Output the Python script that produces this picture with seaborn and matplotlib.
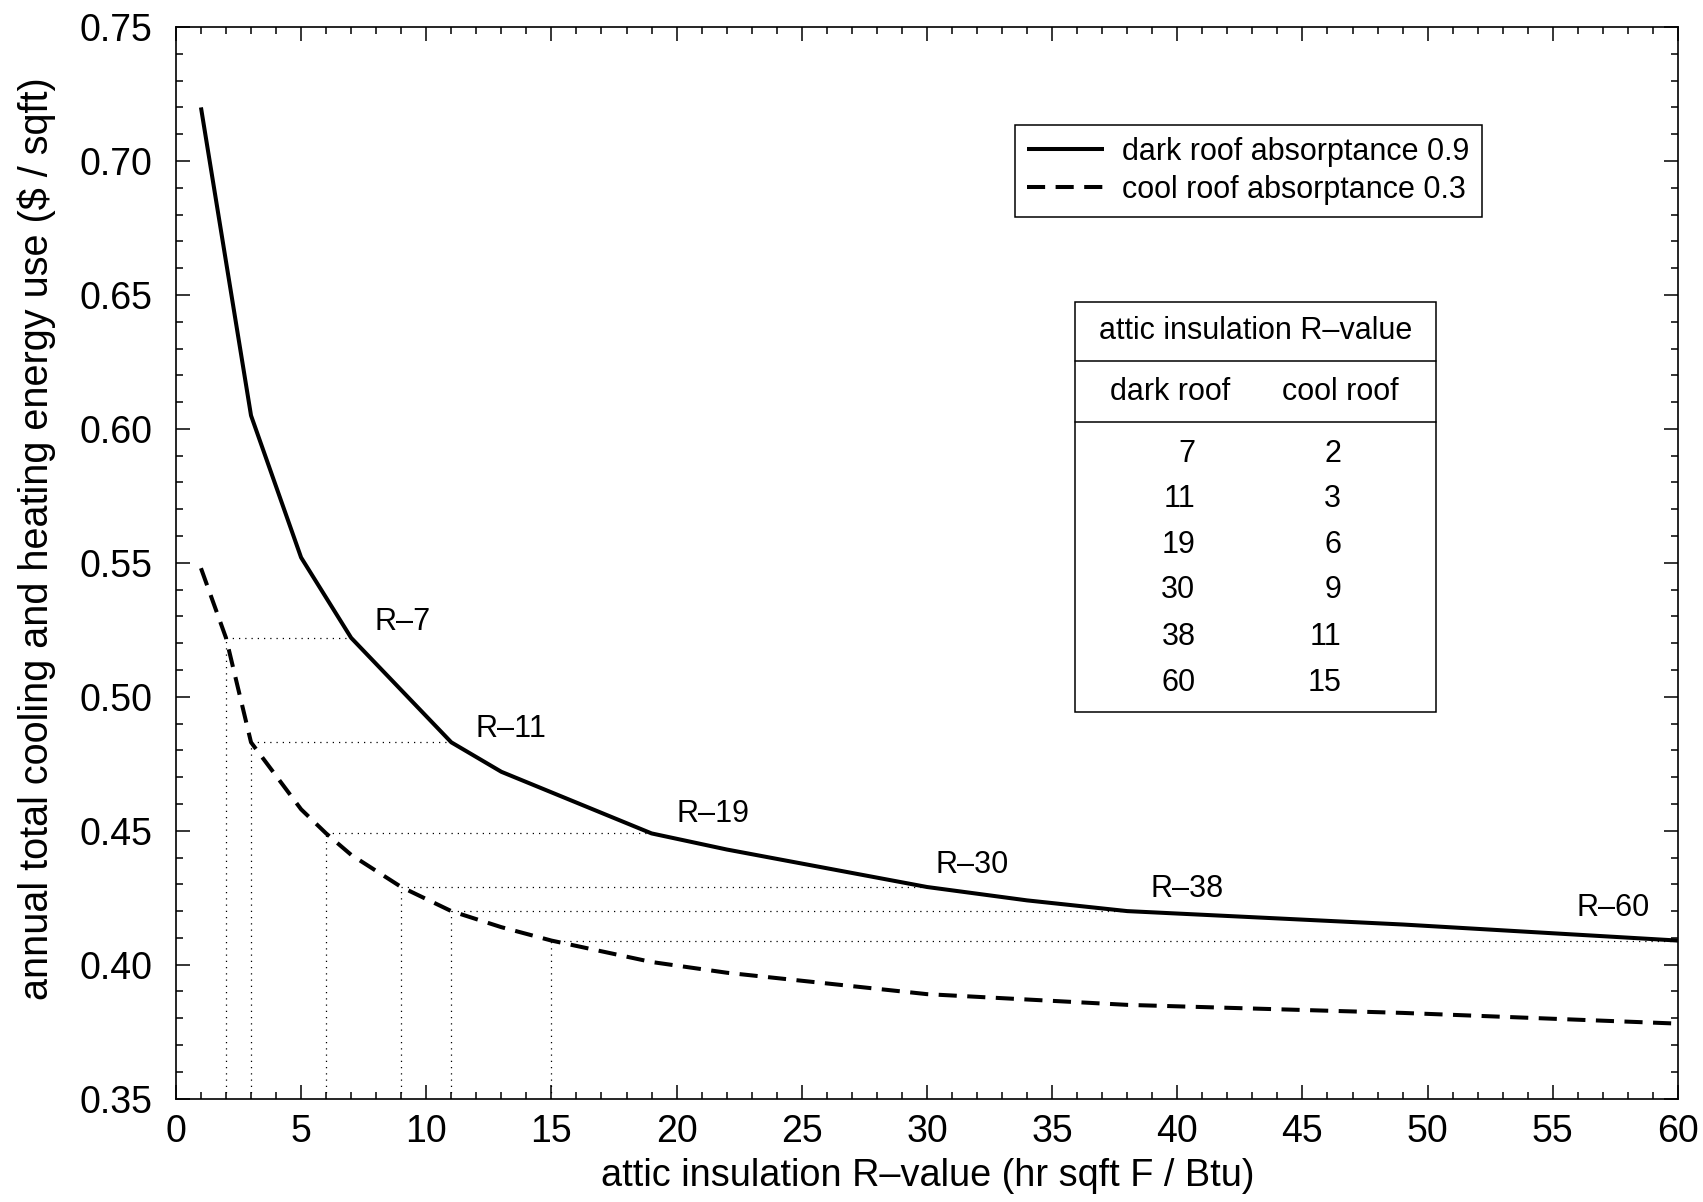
import numpy as np
import pandas as pd
import matplotlib
matplotlib.use("Agg")
import matplotlib.pyplot as plt
import seaborn as sns
from matplotlib.ticker import MultipleLocator, FormatStrFormatter
from matplotlib.patches import Rectangle

# Annual cost vs. attic insulation level for two roof absorptances
r_dark = [1, 3, 5, 7, 11, 13, 19, 22, 26, 30, 34, 38, 49, 60]
cost_dark = [0.720, 0.605, 0.552, 0.522, 0.483, 0.472, 0.449, 0.443, 0.436,
             0.429, 0.424, 0.420, 0.415, 0.409]
r_cool = [1, 2, 3, 5, 6, 7, 9, 11, 13, 15, 19, 22, 26, 30, 34, 38, 49, 60]
cost_cool = [0.548, 0.522, 0.483, 0.458, 0.449, 0.441, 0.429, 0.420, 0.414,
             0.409, 0.401, 0.397, 0.393, 0.389, 0.387, 0.385, 0.382, 0.378]

# Equivalent insulation levels (same annual cost)
table_dark = [7, 11, 19, 30, 38, 60]
table_cool = [2, 3, 6, 9, 11, 15]

series_names = ["dark roof absorptance 0.9", "cool roof absorptance 0.3"]

df = pd.concat([
    pd.DataFrame({"R": r_dark, "cost": cost_dark, "roof": series_names[0]}),
    pd.DataFrame({"R": r_cool, "cost": cost_cool, "roof": series_names[1]}),
])

sns.set_style("ticks")
plt.rcParams["font.family"] = ["Liberation Sans", "DejaVu Sans"]
plt.rcParams["axes.linewidth"] = 1.2
for key in ("text.color", "axes.labelcolor", "xtick.color", "ytick.color",
            "axes.edgecolor"):
    plt.rcParams[key] = "black"

fig = plt.figure(figsize=(17.03, 12.02), dpi=100)
ax = fig.add_axes([0.1033, 0.086, 0.882, 0.8915])

sns.lineplot(data=df, x="R", y="cost", hue="roof", style="roof",
             palette=["black", "black"], dashes=[(1, 0), (4.5, 2.6)],
             linewidth=2.9, ax=ax, legend=True, sort=True)

# dotted guides linking equal-cost insulation levels
dark_lookup = dict(zip(r_dark, cost_dark))
ymin = 0.35
for rd, rc in zip(table_dark, table_cool):
    v = dark_lookup[rd]
    ax.hlines(v, rc, rd, colors="black", linewidth=0.9,
              linestyles=(0, (1, 4)), zorder=1)
    ax.vlines(rc, ymin, v, colors="black", linewidth=0.9,
              linestyles=(0, (1, 4)), zorder=1)

# R-value labels along the dark curve
label_pos = [(9.07, 0.528), (13.4, 0.488), (21.45, 0.4563),
             (31.8, 0.4372), (40.4, 0.4283), (57.4, 0.421)]
for rd, (lx, ly) in zip(table_dark, label_pos):
    ax.text(lx, ly, f"R\u2013{rd}", fontsize=22, ha="center", va="center")

ax.set_xlim(0, 60)
ax.set_ylim(0.35, 0.75)
ax.xaxis.set_major_locator(MultipleLocator(5))
ax.xaxis.set_minor_locator(MultipleLocator(1))
ax.yaxis.set_major_locator(MultipleLocator(0.05))
ax.yaxis.set_minor_locator(MultipleLocator(0.01))
ax.yaxis.set_major_formatter(FormatStrFormatter("%.2f"))
ax.tick_params(which="both", direction="in", top=True, right=True,
               color="black", width=1.1)
ax.tick_params(which="major", length=10, labelsize=27)
ax.tick_params(which="minor", length=5)
ax.tick_params(axis="x", which="major", pad=11)
ax.tick_params(axis="y", which="major", pad=17)
for s in ax.spines.values():
    s.set_visible(True)
    s.set_color("black")

ax.set_xlabel("attic insulation R\u2013value (hr sqft F / Btu)", fontsize=27.3)
ax.xaxis.set_label_coords(0.5007, -0.055)
ax.set_ylabel("annual total cooling and heating energy use ($ / sqft)",
              fontsize=28.5)
ax.yaxis.set_label_coords(-0.080, 0.523)

leg = ax.legend(loc="upper left", bbox_to_anchor=(0.5586, 0.9088),
                borderaxespad=0, fontsize=22, frameon=True, fancybox=False,
                edgecolor="black", framealpha=1, handlelength=2.5,
                handletextpad=0.6, borderpad=0.4, labelspacing=0.25)
leg.get_frame().set_linewidth(1.1)

# equivalence table
x0, x1 = 0.5984, 0.8386
y0, y1 = 0.3607, 0.7437
ax.add_patch(Rectangle((x0, y0), x1 - x0, y1 - y0, transform=ax.transAxes,
                       fill=False, edgecolor="black", linewidth=1.1, zorder=3))
for yl in (0.6879, 0.6312):
    ax.plot([x0, x1], [yl, yl], transform=ax.transAxes, color="black",
            linewidth=1.1, zorder=3)
ax.text((x0 + x1) / 2, 0.7163, "attic insulation R\u2013value",
        transform=ax.transAxes, fontsize=22, ha="center", va="center")
ax.text(0.6621, 0.6596, "dark roof", transform=ax.transAxes, fontsize=22,
        ha="center", va="center")
ax.text(0.775, 0.6596, "cool roof", transform=ax.transAxes, fontsize=22,
        ha="center", va="center")
row_y = [0.6018, 0.5593, 0.5167, 0.4742, 0.4306, 0.3880]
for yy, rd, rc in zip(row_y, table_dark, table_cool):
    ax.text(0.6787, yy, str(rd), transform=ax.transAxes, fontsize=22,
            ha="right", va="center")
    ax.text(0.7757, yy, str(rc), transform=ax.transAxes, fontsize=22,
            ha="right", va="center")

fig.savefig("out.png", dpi=100, facecolor="white")
